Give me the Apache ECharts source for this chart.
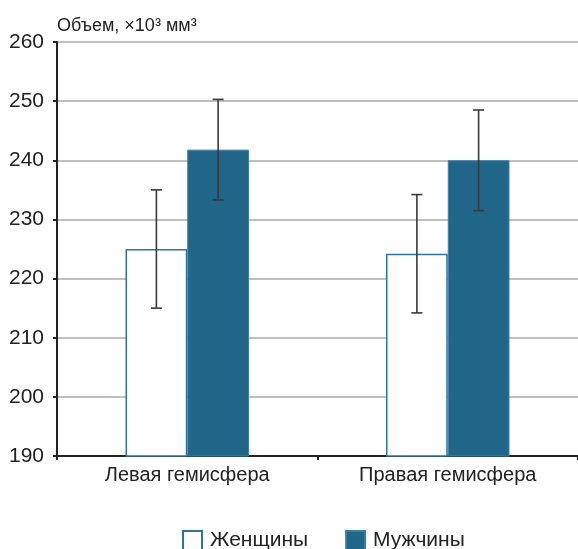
<!DOCTYPE html>
<html>
<head>
<meta charset="utf-8">
<script src="https://cdn.jsdelivr.net/npm/echarts@6/dist/echarts.min.js"></script>
<style>
  html, body { margin: 0; padding: 0; background: #fff; }
  #chart { width: 578px; height: 549px; }
</style>
</head>
<body>
<div id="chart"></div>
<script>
// Hemisphere volumes (×10³ mm³), mean ± error
const categories = ['Левая гемисфера', 'Правая гемисфера'];
const seriesNames = ['Женщины', 'Мужчины'];
const womenValues = [225, 224.2];
const womenErrors = [10, 10];
const menValues = [241.8, 240];
const menErrors = [8.5, 8.5];
const yTicks = [190, 200, 210, 220, 230, 240, 250, 260];

const FONT = "'Liberation Sans Narrow', 'Arial Narrow', 'Liberation Sans', sans-serif";
const BAR_WIDTH_FRAC = 0.237;   // fraction of category band per bar
const MEN_COLOR = '#1f6689';
const WOMEN_BORDER = '#2f7399';

function errorData(values, errors) {
  return values.map((v, i) => [i, v - errors[i], v + errors[i]]);
}

// side: -1 left bar of the pair, +1 right bar
function errorBarRenderer(side) {
  return function (params, api) {
    const idx = api.value(0);
    const band = api.size([1, 0])[0];
    const center = api.coord([idx, 0])[0];
    const x = center + side * band * BAR_WIDTH_FRAC / 2;
    const lo = api.coord([idx, api.value(1)])[1];
    const hi = api.coord([idx, api.value(2)])[1];
    const cap = 5.5;
    const style = { stroke: '#3a3a3a', lineWidth: 1.6 };
    return {
      type: 'group',
      children: [
        { type: 'line', shape: { x1: x, y1: hi, x2: x, y2: lo }, style },
        { type: 'line', shape: { x1: x - cap, y1: hi, x2: x + cap, y2: hi }, style },
        { type: 'line', shape: { x1: x - cap, y1: lo, x2: x + cap, y2: lo }, style }
      ]
    };
  };
}

const chart = echarts.init(document.getElementById('chart'), null, { renderer: 'canvas' });
chart.setOption({
  animation: false,
  backgroundColor: '#fff',
  title: {
    text: 'Объем, ×10³ мм³',
    left: 52,
    top: 12,
    textStyle: { fontFamily: FONT, fontSize: 18, fontWeight: 'normal', color: '#222' }
  },
  legend: {
    data: seriesNames,
    top: 525,
    left: 177,
    itemWidth: 19,
    itemHeight: 19,
    itemGap: 37,
    icon: 'rect',
    textStyle: { fontFamily: FONT, fontSize: 21, color: '#222', padding: [0, 0, 0, 3] }
  },
  grid: { left: 57, right: 0, top: 42, bottom: 93, containLabel: false },
  xAxis: {
    type: 'category',
    data: categories,
    axisLine: { lineStyle: { color: '#222', width: 2 } },
    axisTick: { show: true, length: 4, lineStyle: { color: '#222', width: 2 } },
    axisLabel: { fontFamily: FONT, fontSize: 20, color: '#222', margin: 9 }
  },
  yAxis: {
    type: 'value',
    min: yTicks[0],
    max: yTicks[yTicks.length - 1],
    interval: yTicks[1] - yTicks[0],
    axisLine: { show: true, lineStyle: { color: '#222', width: 2 } },
    axisTick: { show: true, length: 4, lineStyle: { color: '#222', width: 2 } },
    axisLabel: { fontFamily: FONT, fontSize: 21, color: '#222', margin: 13 },
    splitLine: { show: true, lineStyle: { color: '#aaaaaa', width: 1.5 } }
  },
  series: [
    {
      name: seriesNames[0],
      type: 'bar',
      data: womenValues,
      barWidth: (BAR_WIDTH_FRAC * 100) + '%',
      barGap: '0%',
      itemStyle: { color: '#ffffff', borderColor: WOMEN_BORDER, borderWidth: 1.5 },
      z: 2
    },
    {
      name: seriesNames[1],
      type: 'bar',
      data: menValues,
      barWidth: (BAR_WIDTH_FRAC * 100) + '%',
      barGap: '0%',
      itemStyle: { color: MEN_COLOR, borderColor: '#3b7fa3', borderWidth: 1 },
      z: 2
    },
    {
      type: 'custom',
      renderItem: errorBarRenderer(-1),
      data: errorData(womenValues, womenErrors),
      encode: { x: 0, y: [1, 2] },
      z: 5
    },
    {
      type: 'custom',
      renderItem: errorBarRenderer(1),
      data: errorData(menValues, menErrors),
      encode: { x: 0, y: [1, 2] },
      z: 5
    }
  ]
});
</script>
</body>
</html>
